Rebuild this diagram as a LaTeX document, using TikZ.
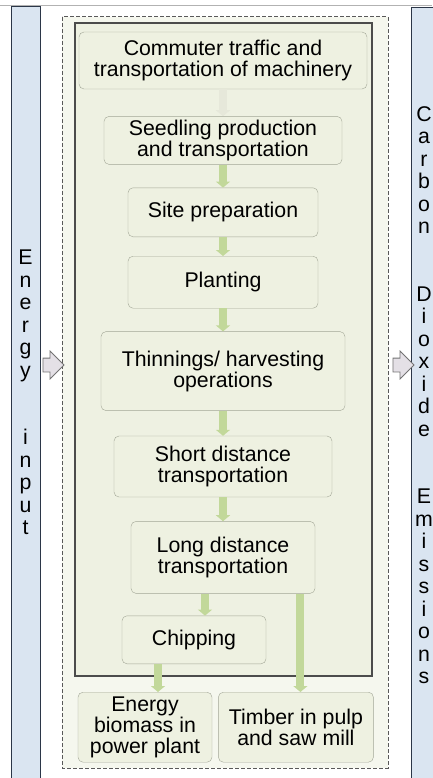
\documentclass[tikz,border=0pt]{standalone}
\usepackage{fontspec}
\setmainfont{Liberation Sans}
\usetikzlibrary{shapes.arrows, arrows.meta, positioning}

\definecolor{sidefill}{HTML}{DAE5F1}
\definecolor{sideline}{HTML}{2B3648}
\definecolor{dashfill}{HTML}{F5F7EE}
\definecolor{innerfill}{HTML}{EEF1E2}
\definecolor{boxfill}{HTML}{EEF1E1}
\definecolor{boxline}{HTML}{A2A697}
\definecolor{flowgreen}{HTML}{C2D89A}
\definecolor{faintline}{HTML}{E6E8DA}
\definecolor{hollowfill}{HTML}{E4E0E6}

\begin{document}
\begin{tikzpicture}[
    x=1pt, y=-1pt,
    font=\fontsize{21.3}{21}\selectfont,
    stage/.style={rectangle, draw=boxline, fill=boxfill, rounded corners=5pt, align=center, inner sep=0pt},
    side/.style={rectangle, draw=sideline, fill=sidefill, line width=1pt, align=center, inner sep=0pt, font=\fontsize{21.3}{22.5}\selectfont},
    flow/.style={draw=flowgreen, line width=8pt, -{Triangle[length=6pt, width=14pt]}},
    hollow/.style={single arrow, draw=black!55, fill=hollowfill, line width=0.8pt, inner sep=6.5pt, single arrow head extend=7pt, minimum height=21pt}
]

\useasboundingbox (0,0) rectangle (432,778);
\draw [black!30] (0,5) -- (432,5);

\node (energyin) [side, minimum width=29pt, minimum height=771pt] at (25.5,392.5) {E\\n\\e\\r\\g\\y\\ \\ \\i\\n\\p\\u\\t};
\node (co2out) [side, minimum width=25pt, minimum height=775pt, anchor=north west] at (411,7) {C\\a\\r\\b\\o\\n\\ \\ \\D\\i\\o\\x\\i\\d\\e\\ \\ \\E\\m\\i\\s\\s\\i\\o\\n\\s};

\draw [black!65, fill=dashfill, line width=1pt, dash pattern=on 4pt off 2pt] (62,17) rectangle (388,768);
\draw [black!70, fill=innerfill, line width=1.2pt] (75,23) rectangle (372,676);

\node (inarrow) [hollow] at (50,365) {};
\node (outarrow) [hollow] at (400,365) {};

\node (commute) [stage, minimum width=288pt, minimum height=57pt] at (223,60.5) {Commuter traffic and\\transportation of machinery};
\node (seedling) [stage, minimum width=238pt, minimum height=48pt, below=27pt of commute] {Seedling production\\and transportation};
\node (siteprep) [stage, minimum width=190pt, minimum height=49pt, below=23pt of seedling] {Site preparation};
\node (planting) [stage, minimum width=190pt, minimum height=52pt, below=19pt of siteprep] {Planting};
\node (thinning) [stage, minimum width=244pt, minimum height=79pt, below=23pt of planting] {Thinnings/ harvesting\\operations};
\node (shortdist) [stage, minimum width=218pt, minimum height=61pt, below=25pt of thinning] {Short distance\\transportation};
\node (longdist) [stage, minimum width=184pt, minimum height=72pt, below=24pt of shortdist] {Long distance\\transportation};
\node (chipping) [stage, minimum width=144pt, minimum height=48pt, below=22pt of longdist, xshift=-29pt] {Chipping};
\node (powerplant) [stage, minimum width=134pt, minimum height=70pt, below=28pt of chipping, xshift=-49pt] {Energy\\biomass in\\power plant};
\node (sawmill) [stage, minimum width=155pt, minimum height=70pt, right=6pt of powerplant] {Timber in pulp\\and saw mill};

\draw [flow, draw=faintline] (commute) -- (seedling);
\draw [flow] (seedling) -- (siteprep);
\draw [flow] (siteprep) -- (planting);
\draw [flow] (planting) -- (thinning);
\draw [flow] (thinning) -- (shortdist);
\draw [flow] (shortdist) -- (longdist);
\draw [flow] ([xshift=11pt]chipping.north |- longdist.south) -- ([xshift=11pt]chipping.north);
\draw [flow] ([xshift=13pt]powerplant.north |- chipping.south) -- ([xshift=13pt]powerplant.north);
\draw [flow] ([xshift=4.5pt]sawmill.north |- longdist.south) -- ([xshift=4.5pt]sawmill.north);

\end{tikzpicture}
\end{document}
